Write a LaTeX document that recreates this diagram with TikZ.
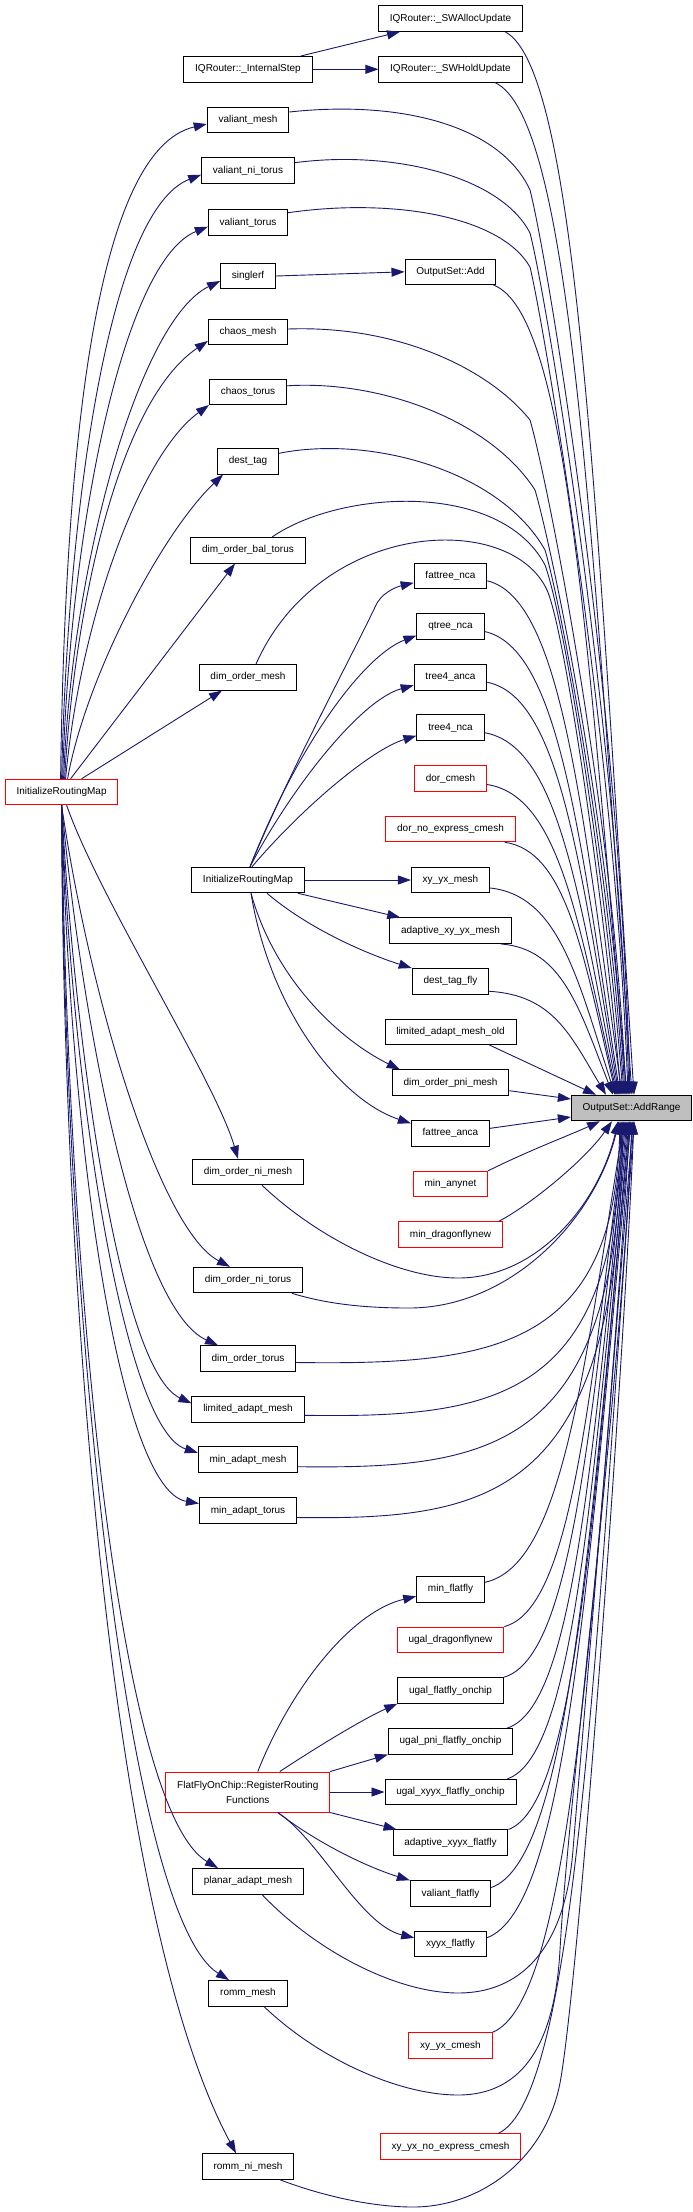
\documentclass[tikz,border=0pt]{standalone}
\usepackage{fontspec}
\setmainfont{Liberation Sans}
\usetikzlibrary{arrows.meta,calc}
\definecolor{edgecol}{HTML}{191970}
\definecolor{nodegray}{HTML}{BFBFBF}
\definecolor{nodered}{HTML}{FF0000}
\tikzset{
  nd/.style={draw=black, line width=1pt, fill=white, minimum height=25.5pt, inner xsep=11.3pt, inner ysep=0pt, font=\fontsize{10}{12}\selectfont, text=black},
  rd/.style={nd, draw=nodered},
  gr/.style={nd, fill=nodegray},
  edg/.style={draw=edgecol, line width=0.9pt, -{Triangle[length=13pt,width=9pt]}},
}
\begin{document}
\begin{tikzpicture}[x=1pt,y=-1pt]
\fill[white] (0,0) rectangle (693,2212);
\useasboundingbox (0,0) rectangle (693,2212);
% nodes
\node[nd] (sa) at (450.5,18.5) {IQRouter::\_SWAllocUpdate};
\node[nd] (is) at (248,69.3) {IQRouter::\_InternalStep};
\node[nd] (sh) at (450.5,69.3) {IQRouter::\_SWHoldUpdate};
\node[nd] (vm) at (248,120) {valiant\_mesh};
\node[nd] (vnt) at (248,170.7) {valiant\_ni\_torus};
\node[nd] (vt) at (248,222.7) {valiant\_torus};
\node[nd] (sr) at (248,276) {singlerf};
\node[nd] (oa) at (450.5,271.8) {OutputSet::Add};
\node[nd] (cm) at (248,332) {chaos\_mesh};
\node[nd] (ct) at (248,391.8) {chaos\_torus};
\node[nd] (dt) at (248,461.3) {dest\_tag};
\node[nd] (dobt) at (248,550.3) {dim\_order\_bal\_torus};
\node[nd] (fn) at (450.5,575.8) {fattree\_nca};
\node[nd] (qn) at (450.5,626.5) {qtree\_nca};
\node[nd] (dom) at (248,677.3) {dim\_order\_mesh};
\node[nd] (t4a) at (450.5,677.3) {tree4\_anca};
\node[nd] (t4n) at (450.5,727.7) {tree4\_nca};
\node[rd] (L) at (61.6,792) {InitializeRoutingMap};
\node[rd] (dc) at (450.5,778.5) {dor\_cmesh};
\node[rd] (dnec) at (450.5,829) {dor\_no\_express\_cmesh};
\node[nd] (M) at (248,880) {InitializeRoutingMap};
\node[nd] (xym) at (450.5,880) {xy\_yx\_mesh};
\node[nd] (axym) at (450.5,930.7) {adaptive\_xy\_yx\_mesh};
\node[nd] (dtf) at (450.5,981.3) {dest\_tag\_fly};
\node[nd] (lamo) at (450.5,1031.8) {limited\_adapt\_mesh\_old};
\node[nd] (dopm) at (450.5,1082.7) {dim\_order\_pni\_mesh};
\node[gr] (A) at (631.6,1108) {OutputSet::AddRange};
\node[nd] (fa) at (450.5,1133.3) {fattree\_anca};
\node[nd] (donm) at (248,1172) {dim\_order\_ni\_mesh};
\node[rd] (ma) at (450.5,1184) {min\_anynet};
\node[rd] (mdn) at (450.5,1234.5) {min\_dragonflynew};
\node[nd] (dont) at (248,1280) {dim\_order\_ni\_torus};
\node[nd] (dot) at (248,1358.5) {dim\_order\_torus};
\node[nd] (lam) at (248,1409.3) {limited\_adapt\_mesh};
\node[nd] (mam) at (248,1459.7) {min\_adapt\_mesh};
\node[nd] (mat) at (248,1510.5) {min\_adapt\_torus};
\node[nd] (mf) at (450.5,1589.3) {min\_flatfly};
\node[rd] (udn) at (450.5,1639.8) {ugal\_dragonflynew};
\node[nd] (ufo) at (450.5,1690.5) {ugal\_flatfly\_onchip};
\node[nd] (upfo) at (450.5,1741.3) {ugal\_pni\_flatfly\_onchip};
\node[rd, align=center, minimum height=40pt, font=\fontsize{10}{15}\selectfont] (F) at (247.8,1792) {FlatFlyOnChip::RegisterRouting\\Functions};
\node[nd] (uxfo) at (450.5,1792) {ugal\_xyyx\_flatfly\_onchip};
\node[nd] (axf) at (450.5,1842.7) {adaptive\_xyyx\_flatfly};
\node[nd] (pam) at (248,1881.3) {planar\_adapt\_mesh};
\node[nd] (vf) at (450.5,1893.5) {valiant\_flatfly};
\node[nd] (xf) at (450.5,1943.8) {xyyx\_flatfly};
\node[nd] (rm) at (248,1993.3) {romm\_mesh};
\node[rd] (xyc) at (450.5,2045.5) {xy\_yx\_cmesh};
\node[rd] (xync) at (450.5,2146.7) {xy\_yx\_no\_express\_cmesh};
\node[nd] (rnm) at (248,2166.5) {romm\_ni\_mesh};

% misc edges
\draw[edg] ($(is.north east)+(-12,0)$) -- ($(sa.south west)+(22,0)$);
\draw[edg] (is.east) -- (sh.west);
\draw[edg] (sr.east) -- (oa.west);

% L upward
\draw[edg] ($(L.north)+(-1,0)$) .. controls (65,450) and (95,150) .. ($(vm.west)+(0,4)$);
\draw[edg] (L.north) .. controls (68,500) and (110,210) .. ($(vnt.west)+(0,4)$);
\draw[edg] ($(L.north)+(1,0)$) .. controls (70,520) and (125,260) .. ($(vt.west)+(0,4)$);
\draw[edg] ($(L.north)+(2,0)$) .. controls (72,560) and (140,320) .. ($(sr.west)+(0,5)$);
\draw[edg] ($(L.north)+(3,0)$) .. controls (75,600) and (120,400) .. ($(cm.west)+(0,9)$);
\draw[edg] ($(L.north)+(4,0)$) .. controls (80,620) and (140,455) .. (ct.south west);
\draw[edg] ($(L.north)+(6,0)$) .. controls (85,680) and (160,535) .. ($(dt.south west)+(6,0)$);
\draw[edg] ($(L.north)+(9,0)$) -- ($(dobt.south)+(-13,0)$);
\draw[edg] ($(L.north)+(20,0)$) -- ($(dom.south)+(-26,0)$);

% L downward
\draw[edg] ($(L.south)+(5,0)$) .. controls (100,900) and (215,1080) .. ($(donm.north)+(-10,0)$);
\draw[edg] (L.south) .. controls (90,1000) and (160,1230) .. ($(dont.north)+(-18,0)$);
\draw[edg] (L.south) .. controls (85,1050) and (140,1310) .. ($(dot.north)+(-30,0)$);
\draw[edg] (L.south) .. controls (75,1050) and (120,1370) .. ($(lam.west)+(0,-6)$);
\draw[edg] (L.south) .. controls (72,1100) and (125,1430) .. ($(mam.west)+(0,-7)$);
\draw[edg] (L.south) .. controls (70,1150) and (120,1490) .. ($(mat.west)+(0,-7)$);
\draw[edg] (L.south) .. controls (68,1300) and (120,1810) .. ($(pam.north)+(-30,0)$);
\draw[edg] (L.south) .. controls (64,1300) and (125,1915) .. ($(rm.north)+(-19,0)$);
\draw[edg] (L.south) .. controls (62,1200) and (100,1900) .. ($(rnm.north)+(-12,0)$);

% M edges
\draw[edg] ($(M.north)+(2,0)$) .. controls (290,770) and (350,660) .. (377,603) .. controls (385,590) and (400,586) .. ($(fn.west)+(0,7)$);
\draw[edg] ($(M.north)+(2,0)$) .. controls (300,740) and (365,655) .. ($(qn.west)+(0,9)$);
\draw[edg] ($(M.north)+(2,0)$) .. controls (290,790) and (360,700) .. ($(t4a.west)+(0,8)$);
\draw[edg] ($(M.north)+(4,0)$) .. controls (300,810) and (370,750) .. ($(t4n.west)+(0,8)$);
\draw[edg] (M.east) -- (xym.west);
\draw[edg] ($(M.south east)+(-7,0)$) -- ($(axym.north west)+(11,0)$);
\draw[edg] ($(M.south)+(19,0)$) .. controls (310,930) and (370,955) .. (dtf.north west);
\draw[edg] ($(M.south)+(3,0)$) .. controls (275,980) and (340,1040) .. ($(dopm.north west)+(8,0)$);
\draw[edg] ($(M.south)+(3,0)$) .. controls (270,1010) and (340,1100) .. ($(fa.west)+(0,-10)$);

% F edges
\draw[edg] ($(F.north)+(10,0)$) .. controls (290,1690) and (350,1612) .. ($(mf.west)+(0,7)$);
\draw[edg] ($(F.north)+(32,0)$) .. controls (320,1745) and (365,1718) .. (ufo.south west);
\draw[edg] (F.north east) -- (upfo.south west);
\draw[edg] (F.east) -- (uxfo.west);
\draw[edg] (F.south east) -- ($(axf.north west)+(4,0)$);
\draw[edg] ($(F.south)+(30,0)$) .. controls (320,1845) and (370,1868) .. (vf.north west);
\draw[edg] ($(F.south)+(30,0)$) .. controls (320,1840) and (360,1925) .. ($(xf.west)+(0,-6)$);

% into AddRange from above
\draw[edg] ($(sa.south)+(54.5,0)$) .. controls (576,68.5) and (595.3,488.8) .. ($(A.north)+(2.4,0)$);
\draw[edg] ($(sh.south)+(44.5,0)$) .. controls (570.4,117.5) and (590.9,517.9) .. ($(A.north)+(0.4,0)$);
\draw[edg] ($(oa.south east)+(-3,0)$) .. controls (566.7,313) and (586.8,633.3) .. ($(A.north)+(-4.6,0)$);
\draw[edg] ($(vm.east)+(0,-8)$) .. controls (400,100) and (500,125) .. (530,190) .. controls (548,260) and (620,700) .. ($(A.north)+(-1.6,0)$);
\draw[edg] ($(vnt.east)+(0,-8)$) .. controls (390,150) and (500,175) .. (530,233) .. controls (545,290) and (618,720) .. ($(A.north)+(-2.6,0)$);
\draw[edg] ($(vt.east)+(0,-10)$) .. controls (390,198) and (500,215) .. (530,267) .. controls (543,320) and (615,740) .. ($(A.north)+(-3.6,0)$);
\draw[edg] ($(cm.east)+(0,-3)$) .. controls (400,325) and (490,370) .. (530,420) .. controls (545,470) and (612,800) .. ($(A.north)+(-5.6,0)$);
\draw[edg] ($(ct.east)+(0,-6)$) .. controls (380,380) and (490,420) .. (535,490) .. controls (550,540) and (610,820) .. ($(A.north)+(-6.6,0)$);
\draw[edg] ($(dt.east)+(0,-8)$) .. controls (370,435) and (500,470) .. (545,550) .. controls (560,600) and (608,850) .. ($(A.north)+(-7.6,0)$);
\draw[edg] ($(dobt.north)+(24,0)$) .. controls (340,490) and (500,480) .. (545,565) .. controls (565,620) and (606,880) .. ($(A.north)+(-8.6,0)$);
\draw[edg] ($(dom.north)+(8,0)$) .. controls (320,520) and (510,510) .. (547,590) .. controls (565,630) and (604,900) .. ($(A.north)+(-10.6,0)$);
\draw[edg] ($(fn.east)+(0,5)$) .. controls (561.1,598.8) and (581.4,802) .. ($(A.north)+(-9.6,0)$);
\draw[edg] ($(qn.east)+(0,5)$) .. controls (558.8,647.7) and (579.2,830.9) .. ($(A.north)+(-11.6,0)$);
\draw[edg] ($(t4a.east)+(0,5)$) .. controls (559.5,696.8) and (579.3,859.9) .. ($(A.north)+(-12.6,0)$);
\draw[edg] ($(t4n.east)+(0,5)$) .. controls (557.7,745.4) and (577.8,888.6) .. ($(A.north)+(-13.6,0)$);
\draw[edg] ($(dc.east)+(0,6)$) .. controls (558.4,795.4) and (577.9,918.1) .. ($(A.north)+(-14.6,0)$);
\draw[edg] ($(dnec.south east)+(-11,0)$) .. controls (565.9,850.9) and (582.6,950.9) .. ($(A.north)+(-15.6,0)$);
\draw[edg] ($(xym.east)+(0,8)$) .. controls (558.4,895.3) and (577.3,977.1) .. ($(A.north)+(-16.6,0)$);
\draw[edg] ($(axym.south east)+(-11,0)$) .. controls (562.4,948.6) and (579.3,1008.7) .. ($(A.north)+(-18.6,0)$);
\draw[edg] ($(dtf.east)+(0,10)$) .. controls (553.3,995) and (570.9,1036) .. ($(A.north)+(-25.6,0)$);
\draw[edg] ($(lamo.south east)+(-27,0)$) -- ($(A.north)+(-35.6,0)$);
\draw[edg] ($(dopm.east)+(0,8)$) -- ($(A.west)+(0,-9)$);
\draw[edg] ($(fa.east)+(0,-5)$) -- ($(A.west)+(0,9)$);

% into AddRange from below
\draw[edg] (ma.north east) .. controls (530,1150) and (570,1135) .. ($(A.south)+(-31.6,0)$);
\draw[edg] ($(mdn.north east)+(-4,0)$) .. controls (530,1205) and (585,1160) .. ($(A.south)+(-19.6,0)$);
\draw[edg] ($(mf.east)+(0,-7)$) .. controls (561,1566.1) and (582,1383.8) .. ($(A.south)+(-7.6,0)$);
\draw[edg] (udn.north east) .. controls (570.4,1609.3) and (588.6,1409.3) .. ($(A.south)+(-6.6,0)$);
\draw[edg] (ufo.north east) .. controls (570.9,1658.2) and (589.3,1438.2) .. ($(A.south)+(-5.6,0)$);
\draw[edg] ($(upfo.north east)+(-6,0)$) .. controls (573,1707.4) and (591,1467.3) .. ($(A.south)+(-4.6,0)$);
\draw[edg] ($(uxfo.north east)+(-9,0)$) .. controls (573.6,1756.3) and (591.7,1496.1) .. ($(A.south)+(-3.6,0)$);
\draw[edg] (axf.north east) .. controls (574.6,1805.2) and (592.7,1525) .. ($(A.south)+(-2.6,0)$);
\draw[edg] ($(vf.east)+(0,-6)$) .. controls (567.3,1860.7) and (588.2,1557.8) .. ($(A.south)+(-1.6,0)$);
\draw[edg] ($(xf.east)+(0,-6)$) .. controls (565.7,1909.2) and (587.4,1586.5) .. ($(A.south)+(-0.6,0)$);
\draw[edg] (xyc.north east) .. controls (569.6,2000.8) and (590.7,1640.5) .. ($(A.south)+(1.4,0)$);
\draw[edg] ($(xync.north east)+(-23,0)$) .. controls (572.8,2098.5) and (593.2,1698.3) .. ($(A.south)+(2.4,0)$);
\draw[edg] ($(donm.south)+(14,0)$) .. controls (320,1240) and (400,1278) .. (458,1278) .. controls (540,1278) and (600,1200) .. ($(A.south)+(-13.6,0)$);
\draw[edg] ($(dont.south east)+(-11,0)$) .. controls (330,1305) and (370,1308) .. (409,1308) .. controls (510,1308) and (595,1220) .. ($(A.south)+(-12.6,0)$);
\draw[edg] ($(dot.east)+(0,4)$) .. controls (490,1365) and (614,1350) .. ($(A.south)+(-11.6,0)$);
\draw[edg] ($(lam.east)+(0,6)$) .. controls (494,1418) and (615,1400) .. ($(A.south)+(-10.6,0)$);
\draw[edg] ($(mam.east)+(0,7)$) .. controls (492,1469) and (616,1450) .. ($(A.south)+(-9.6,0)$);
\draw[edg] ($(mat.east)+(0,7)$) .. controls (492,1520) and (617,1498) .. ($(A.south)+(-8.6,0)$);
\draw[edg] ($(pam.south)+(14,0)$) .. controls (320,1955) and (400,1993) .. (458,1993) .. controls (520,1993) and (565,1950) .. (573,1850) .. controls (583,1725) and (615,1371) .. ($(A.south)+(-1.6,0)$);
\draw[edg] ($(rm.south)+(16,0)$) .. controls (320,2060) and (400,2095) .. (458,2095) .. controls (525,2095) and (555,2040) .. (560,1950) .. controls (568,1800) and (620,1400) .. ($(A.south)+(0.4,0)$);
\draw[edg] ($(rnm.south)+(32,0)$) .. controls (320,2195) and (370,2207) .. (413,2207) .. controls (480,2207) and (545,2160) .. (560,2083) .. controls (578,1988) and (622,1400) .. ($(A.south)+(2.4,0)$);
\end{tikzpicture}
\end{document}
